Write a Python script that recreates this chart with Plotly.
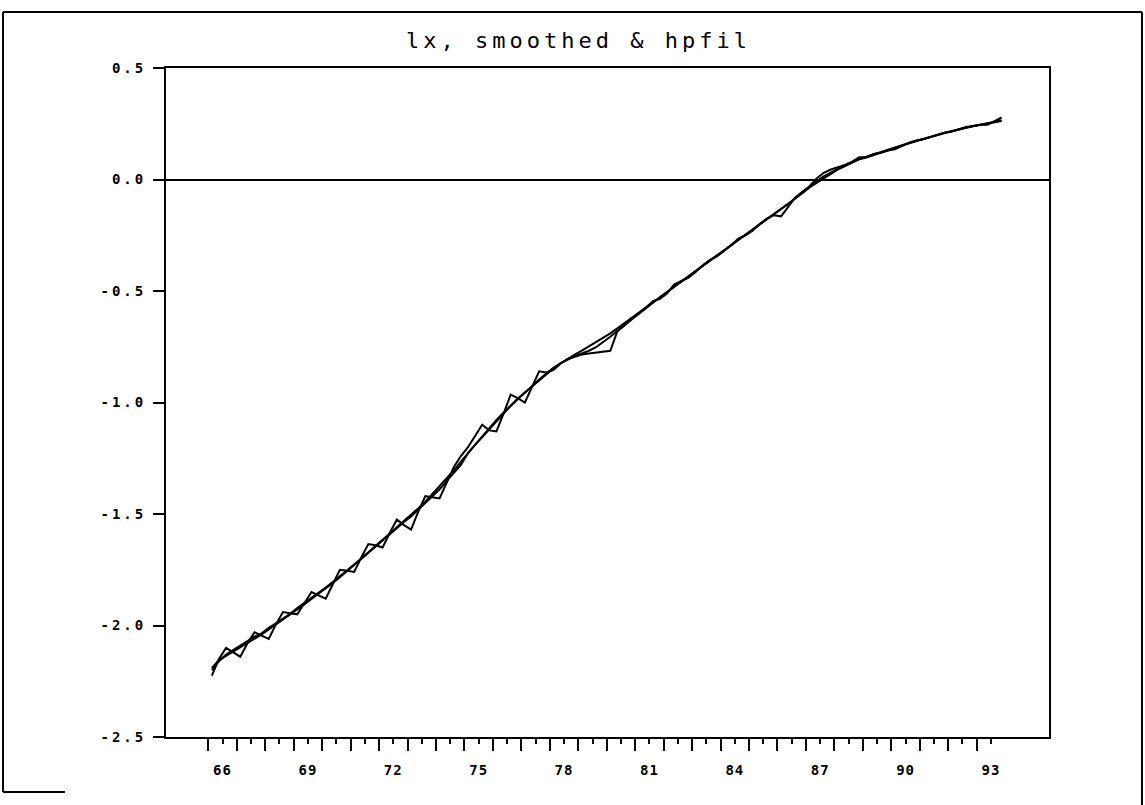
import plotly.graph_objects as go

# ---------------- data (quarterly, 1966Q1 .. 1993Q4) ----------------
years = list(range(1966, 1994))
quarters = [f"{y}Q{q}" for y in years for q in range(1, 5)]

lx = [
    -2.225, -2.15, -2.10, -2.12,      # 1966
    -2.14, -2.08, -2.03, -2.045,      # 1967
    -2.06, -1.995, -1.94, -1.945,     # 1968
    -1.95, -1.90, -1.85, -1.865,      # 1969
    -1.88, -1.815, -1.75, -1.755,     # 1970
    -1.76, -1.695, -1.635, -1.64,     # 1971
    -1.65, -1.585, -1.525, -1.55,     # 1972
    -1.57, -1.49, -1.42, -1.425,      # 1973
    -1.43, -1.36, -1.29, -1.24,       # 1974
    -1.20, -1.15, -1.10, -1.125,      # 1975
    -1.13, -1.05, -0.965, -0.98,      # 1976
    -1.00, -0.93, -0.86, -0.865,      # 1977
    -0.855, -0.825, -0.805, -0.795,   # 1978
    -0.785, -0.78, -0.775, -0.77,     # 1979
    -0.768, -0.68, -0.655, -0.625,    # 1980
    -0.60, -0.575, -0.545, -0.535,    # 1981
    -0.51, -0.47, -0.455, -0.44,      # 1982
    -0.415, -0.385, -0.36, -0.345,    # 1983
    -0.32, -0.295, -0.265, -0.25,     # 1984
    -0.23, -0.20, -0.175, -0.16,      # 1985
    -0.165, -0.12, -0.08, -0.055,     # 1986
    -0.03, 0.005, 0.03, 0.045,        # 1987
    0.055, 0.065, 0.08, 0.10,         # 1988
    0.10, 0.115, 0.12, 0.13,          # 1989
    0.135, 0.15, 0.165, 0.175,        # 1990
    0.18, 0.19, 0.20, 0.21,           # 1991
    0.215, 0.225, 0.235, 0.24,        # 1992
    0.245, 0.245, 0.26, 0.278,        # 1993
]

smoothed = [
    -2.20, -2.16, -2.13, -2.11,
    -2.09, -2.07, -2.05, -2.035,
    -2.01, -1.99, -1.97, -1.948,
    -1.922, -1.90, -1.878, -1.855,
    -1.83, -1.805, -1.78, -1.755,
    -1.726, -1.70, -1.672, -1.645,
    -1.618, -1.59, -1.562, -1.535,
    -1.505, -1.475, -1.445, -1.41,
    -1.378, -1.342, -1.305, -1.265,
    -1.225, -1.19, -1.155, -1.12,
    -1.085, -1.05, -1.015, -0.985,
    -0.955, -0.925, -0.897, -0.87,
    -0.845, -0.825, -0.808, -0.792,
    -0.78, -0.768, -0.752, -0.73,
    -0.705, -0.678, -0.652, -0.627,
    -0.60, -0.576, -0.552, -0.528,
    -0.504, -0.48, -0.456, -0.432,
    -0.41, -0.386, -0.363, -0.34,
    -0.317, -0.293, -0.27, -0.247,
    -0.225, -0.201, -0.178, -0.156,
    -0.135, -0.11, -0.084, -0.058,
    -0.032, -0.008, 0.014, 0.032,
    0.048, 0.062, 0.077, 0.092,
    0.102, 0.113, 0.123, 0.134,
    0.144, 0.154, 0.164, 0.174,
    0.183, 0.192, 0.201, 0.21,
    0.218, 0.226, 0.233, 0.24,
    0.246, 0.252, 0.259, 0.266,
]

hpfil = [
    -2.19, -2.155, -2.136, -2.117,
    -2.10, -2.08, -2.06, -2.04,
    -2.018, -1.996, -1.974, -1.952,
    -1.928, -1.905, -1.881, -1.858,
    -1.834, -1.809, -1.783, -1.758,
    -1.729, -1.702, -1.674, -1.647,
    -1.62, -1.592, -1.564, -1.536,
    -1.511, -1.48, -1.45, -1.419,
    -1.39, -1.353, -1.317, -1.28,
    -1.227, -1.189, -1.151, -1.113,
    -1.078, -1.046, -1.014, -0.982,
    -0.955, -0.928, -0.902, -0.875,
    -0.848, -0.825, -0.803, -0.785,
    -0.767, -0.748, -0.729, -0.71,
    -0.69, -0.667, -0.644, -0.621,
    -0.597, -0.574, -0.55, -0.527,
    -0.504, -0.481, -0.457, -0.434,
    -0.411, -0.388, -0.364, -0.341,
    -0.318, -0.295, -0.271, -0.248,
    -0.225, -0.202, -0.178, -0.155,
    -0.132, -0.109, -0.085, -0.062,
    -0.036, -0.015, 0.005, 0.026,
    0.045, 0.06, 0.076, 0.091,
    0.098, 0.109, 0.121, 0.132,
    0.142, 0.152, 0.162, 0.172,
    0.182, 0.191, 0.199, 0.208,
    0.217, 0.224, 0.232, 0.239,
    0.245, 0.251, 0.257, 0.262,
]

x_label_years = [1966, 1969, 1972, 1975, 1978, 1981, 1984, 1987, 1990, 1993]
x_tick_labels = ["66", "69", "72", "75", "78", "81", "84", "87", "90", "93"]
y_tick_values = [0.5, 0.0, -0.5, -1.0, -1.5, -2.0, -2.5]
y_tick_labels = ["0.5", "0.0", "-0.5", "-1.0", "-1.5", "-2.0", "-2.5"]
title_text = "lx, smoothed & hpfil"

# ---------------- figure ----------------
# time position of each quarter (centre of quarter)
t = [int(s[:4]) + (int(s[-1]) - 1) / 4 + 0.125 for s in quarters]

fig = go.Figure()
for name, series in (("lx", lx), ("smoothed", smoothed), ("hpfil", hpfil)):
    fig.add_trace(go.Scatter(x=t, y=series, mode="lines", name=name,
                             line=dict(color="black", width=2),
                             showlegend=False, hoverinfo="skip"))


def spaced(s, px_):
    return f'<span style="letter-spacing:{px_}px">{s}</span>'


label_map = dict(zip(x_label_years, x_tick_labels))
major_vals = [y + 0.5 for y in years]
major_text = [spaced(label_map[y], 1) if y in label_map else "" for y in years]

tickfont = dict(family="DejaVu Sans Mono", size=14, color="black", weight="bold")

fig.update_layout(
    width=1145, height=805,
    margin=dict(l=166, r=96, t=68, b=68),
    paper_bgcolor="white", plot_bgcolor="white",
    showlegend=False,
    xaxis=dict(
        range=[1964.514, 1995.54],
        tickmode="array", tickvals=major_vals, ticktext=major_text,
        ticks="outside", ticklen=5, tickwidth=2, tickcolor="black",
        ticklabelstandoff=14,
        minor=dict(tickmode="array", tickvals=years, ticks="outside",
                   ticklen=12, tickwidth=2, tickcolor="black", showgrid=False),
        showgrid=False, zeroline=False,
        showline=True, linecolor="black", linewidth=2, mirror=True,
        tickfont=tickfont,
    ),
    yaxis=dict(
        range=[-2.5, 0.5],
        tickmode="array", tickvals=y_tick_values,
        ticktext=[spaced(s, 3) for s in y_tick_labels],
        ticks="outside", ticklen=11, tickwidth=2, tickcolor="black",
        ticklabelstandoff=4,
        showgrid=False,
        zeroline=True, zerolinecolor="black", zerolinewidth=1.5,
        showline=True, linecolor="black", linewidth=2, mirror=True,
        tickfont=tickfont,
    ),
)

fig.add_annotation(
    text=spaced(title_text, 4), xref="paper", yref="paper",
    x=(578 - 166) / 883, y=(737 - 40) / 669,
    xanchor="center", yanchor="middle", showarrow=False,
    font=dict(family="DejaVu Sans Mono", size=22, color="black"),
)

# outer frame of the page
def px(xp):
    return (xp - 166) / 883


def py(yp):
    return (737 - yp) / 669


frame = [
    (3, 12, 1142, 12),
    (3, 12, 3, 792),
    (1142, 12, 1142, 805),
    (3, 792, 65, 792),
]
for x0, y0, x1, y1 in frame:
    fig.add_shape(type="line", xref="paper", yref="paper",
                  x0=px(x0), y0=py(y0), x1=px(x1), y1=py(y1),
                  line=dict(color="black", width=2), layer="above")

fig.write_html("out.html")
